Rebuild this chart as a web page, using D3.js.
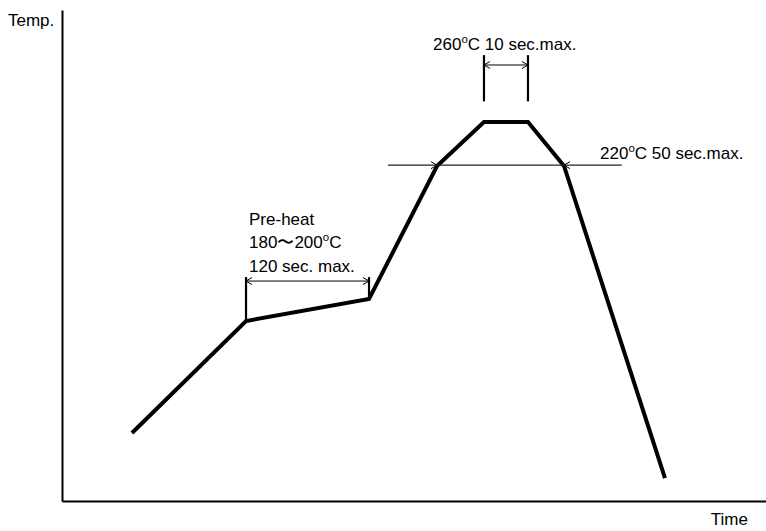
<!DOCTYPE html>
<html>
<head>
<meta charset="utf-8">
<script src="https://cdn.jsdelivr.net/npm/d3@7"></script>
<style>
  html, body { margin: 0; padding: 0; background: #fff; }
  text { font-family: "Liberation Sans", Arial, Helvetica, sans-serif; fill: #000; }
</style>
</head>
<body>
<svg id="chart" width="766" height="531"></svg>
<script>
// ---- data (schematic units: time 0-100, temperature 0-100) ----
const profileTime = [9.94, 26.14, 43.61, 53.27, 59.94, 66.19, 71.31, 85.65];
const profileTemp = [13.85, 36.66, 41.14, 68.23, 77.19, 77.19, 68.23, 4.68];

// annotation levels
const preheatSpan = [26.14, 43.61];   // time range for pre-heat bracket
const preheatTop = 45.6;               // top of bracket ticks
const preheatArrow = 44.8;             // arrow level
const peakSpan = [59.94, 66.19];       // time range for peak bracket
const peakBracket = [81.4, 90.8];      // bracket tick range
const peakArrow = 88.8;
const liquidusLevel = 68.4;            // 220 °C line level
const liquidusSpan = [46.3, 79.5];     // extent of the 220 °C line
const liquidusHits = [53.27, 71.31];   // arrowhead points

const axisLabels = { y: "Temp.", x: "Time" };
const preheatLines = ["Pre-heat", "180\u301C200", "120 sec. max."];
const peakLabel = ["260", "C 10 sec.max."];
const liquidusLabel = ["220", "C 50 sec.max."];

const FS = 17, SUP = 11.5;

// ---- scales ----
const svg = d3.select("#chart");
const x = d3.scaleLinear().domain([0, 100]).range([62, 766]);
const y = d3.scaleLinear().domain([0, 100]).range([501, 10]);

// ---- axes ----
svg.append("g").attr("transform", `translate(${x(0)},0)`)
  .call(d3.axisLeft(y).ticks(0).tickSizeOuter(0))
  .call(g => g.select(".domain").attr("stroke", "#000").attr("stroke-width", 2));
svg.append("g").attr("transform", `translate(0,${y(0)})`)
  .call(d3.axisBottom(x).ticks(0).tickSizeOuter(0))
  .call(g => g.select(".domain").attr("stroke", "#000").attr("stroke-width", 2));

svg.append("text").attr("x", 8).attr("y", 26).attr("font-size", FS).text(axisLabels.y);
svg.append("text").attr("x", 748).attr("y", 525).attr("text-anchor", "end").attr("font-size", FS).text(axisLabels.x);

// ---- profile ----
const pts = profileTime.map((t, i) => [t, profileTemp[i]]);
svg.append("path")
  .datum(pts)
  .attr("d", d3.line().x(d => x(d[0])).y(d => y(d[1])))
  .attr("fill", "none")
  .attr("stroke", "#000")
  .attr("stroke-width", 4)
  .attr("stroke-linejoin", "miter")
  .attr("stroke-linecap", "butt");

// helpers
function vline(t, v0, v1, w) {
  svg.append("line").attr("x1", x(t)).attr("x2", x(t)).attr("y1", y(v0)).attr("y2", y(v1))
    .attr("stroke", "#000").attr("stroke-width", w);
}
function hline(t0, t1, v, w, c) {
  svg.append("line").attr("x1", x(t0)).attr("x2", x(t1)).attr("y1", y(v)).attr("y2", y(v))
    .attr("stroke", c || "#000").attr("stroke-width", w);
}
function head(t, v, dir) { // dir +1 points right, -1 points left
  const px = x(t), py = y(v), L = 6, H = 3.5;
  svg.append("path")
    .attr("d", `M${px - dir * L},${py - H}L${px},${py}L${px - dir * L},${py + H}`)
    .attr("fill", "none").attr("stroke", "#000").attr("stroke-width", 1);
}
function degText(tx, ty, parts) {
  const t = svg.append("text").attr("font-size", FS).attr("x", tx).attr("y", ty);
  t.append("tspan").text(parts[0]);
  t.append("tspan").attr("font-size", SUP).attr("dy", -7).text("o");
  t.append("tspan").attr("font-size", FS).attr("dy", 7).text(parts[1]);
  return t;
}

// ---- pre-heat bracket ----
vline(preheatSpan[0], profileTemp[1], preheatTop, 2.2);
vline(preheatSpan[1], profileTemp[2], preheatTop, 2.2);
hline(preheatSpan[0], preheatSpan[1], preheatArrow, 1);
head(preheatSpan[0], preheatArrow, -1);
head(preheatSpan[1], preheatArrow, 1);

const ptx = x(preheatSpan[0]) + 3;
svg.append("text").attr("font-size", FS).attr("x", ptx).attr("y", 225).text(preheatLines[0]);
degText(ptx, 248, [preheatLines[1], "C"]);
svg.append("text").attr("font-size", FS).attr("x", ptx).attr("y", 272).text(preheatLines[2]);

// ---- peak bracket ----
vline(peakSpan[0], peakBracket[0], peakBracket[1], 2.2);
vline(peakSpan[1], peakBracket[0], peakBracket[1], 2.2);
hline(peakSpan[0], peakSpan[1], peakArrow, 1);
head(peakSpan[0], peakArrow, -1);
head(peakSpan[1], peakArrow, 1);
degText(433, 50, peakLabel);

// ---- 220 °C line ----
hline(liquidusSpan[0], liquidusSpan[1], liquidusLevel, 1.3, "#222");
head(liquidusHits[0], liquidusLevel, 1);
head(liquidusHits[1], liquidusLevel, -1);
degText(600, 159, liquidusLabel);
</script>
</body>
</html>
